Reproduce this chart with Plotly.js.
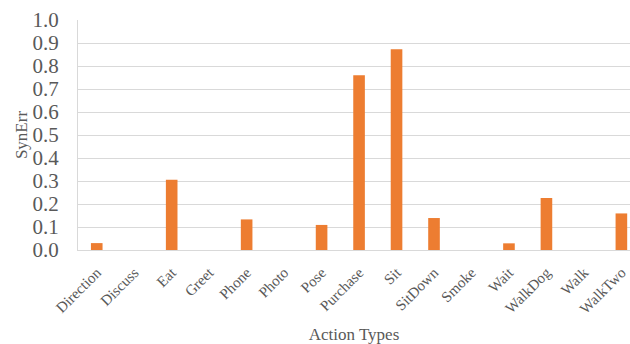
<!DOCTYPE html>
<html>
<head>
<meta charset="utf-8">
<script src="https://cdn.plot.ly/plotly-3.0.1.min.js"></script>
<style>html,body{margin:0;padding:0;background:#fff;}#chart{width:630px;height:344px;}</style>
</head>
<body>
<div id="chart"></div>
<script>
const categories = ["Direction","Discuss","Eat","Greet","Phone","Photo","Pose","Purchase","Sit","SitDown","Smoke","Wait","WalkDog","Walk","WalkTwo"];
const synErr = [0.03, 0, 0.305, 0, 0.133, 0, 0.109, 0.76, 0.873, 0.139, 0, 0.029, 0.226, 0, 0.159];
const yTicks = [0,0.1,0.2,0.3,0.4,0.5,0.6,0.7,0.8,0.9,1.0];
const yTickText = ["0.0","0.1","0.2","0.3","0.4","0.5","0.6","0.7","0.8","0.9","1.0"];

const serif = "Liberation Serif";
Plotly.newPlot("chart", [{
  type: "bar",
  x: categories,
  y: synErr,
  width: 0.31,
  marker: {color: "#ED7D31", line: {width: 0}},
  hoverinfo: "skip"
}], {
  width: 630, height: 344,
  margin: {l: 78, r: 0, t: 20, b: 94},
  paper_bgcolor: "#fff", plot_bgcolor: "#fff",
  showlegend: false,
  font: {family: serif, color: "#595959"},
  xaxis: {
    type: "category",
    range: [-0.5, 14.23],
    tickangle: -45,
    tickfont: {family: serif, size: 15, color: "#595959"},
    ticks: "outside", ticklen: 7, tickcolor: "rgba(0,0,0,0)",
    showgrid: false,
    showline: true, linecolor: "#d9d9d9", linewidth: 1,
    zeroline: false,
    automargin: false,
    title: {text: "Action Types", font: {family: serif, size: 17, color: "#595959"}, standoff: 14}
  },
  yaxis: {
    range: [0, 1.0],
    tickvals: yTicks,
    ticktext: yTickText,
    tickfont: {family: serif, size: 21, color: "#595959"},
    ticks: "outside", ticklen: 14, tickcolor: "rgba(0,0,0,0)",
    showgrid: true, gridcolor: "#d9d9d9", gridwidth: 1,
    showline: true, linecolor: "#d9d9d9", linewidth: 1,
    zeroline: false,
    automargin: false,
    title: {text: "SynErr", font: {family: serif, size: 17, color: "#595959"}, standoff: 0}
  }
}, {staticPlot: true, displayModeBar: false});
</script>
</body>
</html>
